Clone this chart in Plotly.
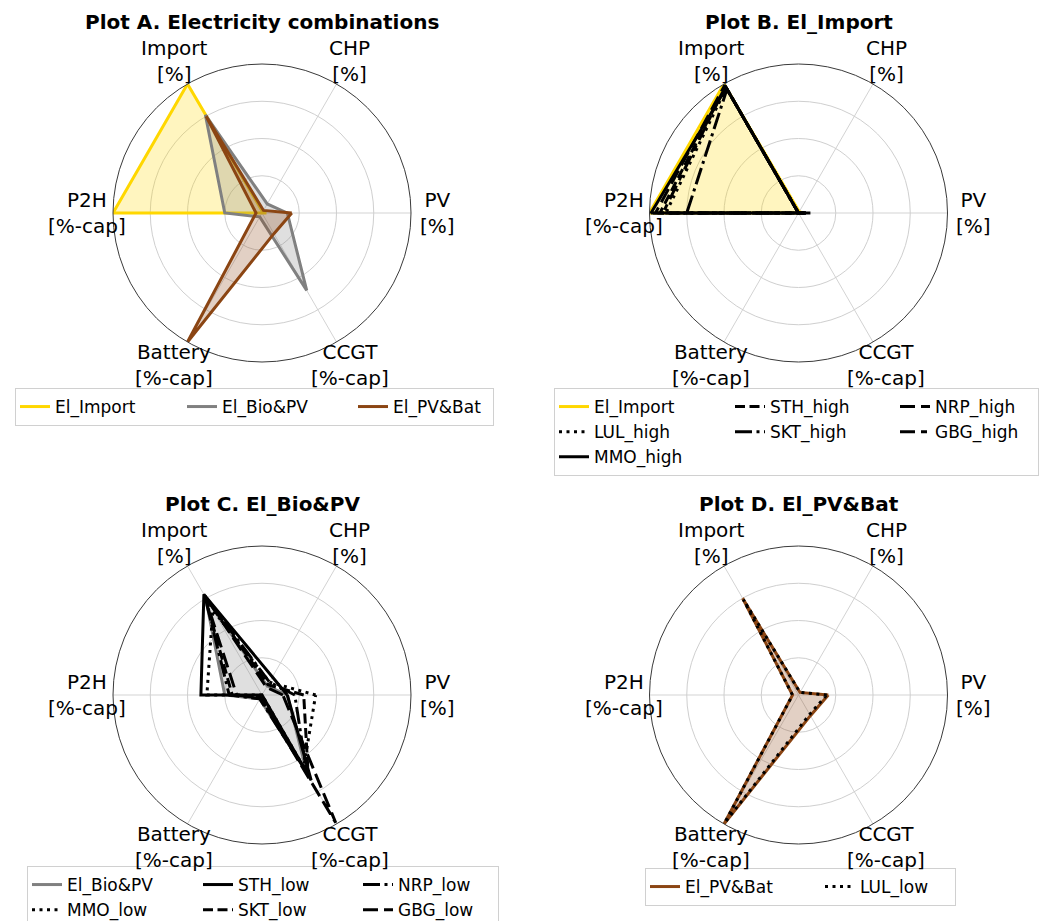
import math
import plotly.graph_objects as go

# Radar axes, listed counter-clockwise starting from the 0° (east) spoke
categories = ["PV", "CHP", "Import", "P2H", "Battery", "CCGT"]
units = ["[%]", "[%]", "[%]", "[%-cap]", "[%-cap]", "[%-cap]"]

# Normalised values, one entry per category above
el_import = [0.03, 0.01, 1.00, 1.00, 0.00, 0.00]
el_bio_pv = [0.17, 0.07, 0.76, 0.25, 0.03, 0.60]
el_pv_bat = [0.20, 0.02, 0.75, 0.04, 1.00, 0.16]

# El_Import sensitivity runs (high)
lul_high = [0.04, 0.00, 0.97, 0.89, 0.00, 0.00]
mmo_high = [0.08, 0.00, 0.97, 0.99, 0.00, 0.00]
sth_high = [0.05, 0.00, 0.98, 0.93, 0.00, 0.00]
skt_high = [0.04, 0.00, 0.96, 0.75, 0.00, 0.00]
nrp_high = [0.05, 0.00, 0.99, 0.96, 0.00, 0.00]
gbg_high = [0.05, 0.00, 0.98, 0.91, 0.00, 0.00]

# El_Bio&PV sensitivity runs (low)
mmo_low = [0.36, 0.10, 0.66, 0.37, 0.00, 0.56]
sth_low = [0.17, 0.14, 0.78, 0.41, 0.00, 0.66]
skt_low = [0.28, 0.08, 0.77, 0.20, 0.02, 0.62]
nrp_low = [0.22, 0.10, 0.77, 0.22, 0.03, 0.60]
gbg_low = [0.14, 0.06, 0.77, 0.17, 0.02, 0.99]

# El_PV&Bat sensitivity run (low)
lul_low = [0.19, 0.02, 0.74, 0.04, 0.99, 0.15]

titles = {
    "polar": "Plot A. Electricity combinations",
    "polar2": "Plot B. El_Import",
    "polar3": "Plot C. El_Bio&PV",
    "polar4": "Plot D. El_PV&Bat",
}

GOLD = "#FFD700"
GREY = "#808080"
BROWN = "#8B4513"
FILLS = {GOLD: "rgba(255,215,0,0.25)", GREY: "rgba(128,128,128,0.25)",
         BROWN: "rgba(139,69,19,0.25)"}

DOT = "3px,4.5px"
DASH = "10px,4.5px"
LONGDASH = "15px,6px"
DASHDOT = "17px,4.5px,3px,4.5px"
DASHSHORT = "15px,6px,6px,6px"

W, H = 1056, 921
R = 149            # polar radius in px
LABEL_R = 175      # distance of the axis labels from the centre
FONT = "DejaVu Sans"
centers = {
    "polar": (262, 213),
    "polar2": (798.5, 213),
    "polar3": (262, 695),
    "polar4": (798.5, 695),
}
legend_of = {"polar": "legend", "polar2": "legend2", "polar3": "legend3", "polar4": "legend4"}

fig = go.Figure()


def add(polar, name, vals, color, dash="solid", fill=False, group=None, entry=None, width=3):
    r = list(vals) + [vals[0]]
    theta = categories + [categories[0]]
    if fill:
        # shaded area drawn on its own so the legend keeps a plain line key
        fig.add_trace(go.Scatterpolar(
            r=r, theta=theta, mode="lines", subplot=polar,
            legend=legend_of[polar], legendgroup=group, showlegend=False,
            line=dict(color=color, width=0), fill="toself",
            fillcolor=FILLS[color], hoverinfo="skip",
        ))
    fig.add_trace(go.Scatterpolar(
        r=r, theta=theta, mode="lines", name=name, subplot=polar,
        legend=legend_of[polar], legendgroup=group, legendwidth=entry,
        line=dict(color=color, width=width, dash=dash),
        cliponaxis=False, hoverinfo="skip",
    ))


# Plot A
add("polar", "El_Import", el_import, GOLD, fill=True, group="a1", entry=122)
add("polar", "El_Bio&PV", el_bio_pv, GREY, fill=True, group="a2", entry=126)
add("polar", "El_PV&Bat", el_pv_bat, BROWN, fill=True, group="a3", entry=95)

# Plot B
add("polar2", "El_Import", el_import, GOLD, fill=True, group="b1", entry=131)
add("polar2", "LUL_high", lul_high, "black", DOT, group="b1", entry=131)
add("polar2", "MMO_high", mmo_high, "black", "solid", group="b1", entry=131)
add("polar2", "STH_high", sth_high, "black", DASH, group="b2", entry=120)
add("polar2", "SKT_high", skt_high, "black", DASHDOT, group="b2", entry=120)
add("polar2", "NRP_high", nrp_high, "black", LONGDASH, group="b3", entry=98)
add("polar2", "GBG_high", gbg_high, "black", DASHSHORT, group="b3", entry=98)

# Plot C
add("polar3", "El_Bio&PV", el_bio_pv, GREY, fill=True, group="c1", entry=126)
add("polar3", "MMO_low", mmo_low, "black", DOT, group="c1", entry=126)
add("polar3", "STH_low", sth_low, "black", "solid", group="c2", entry=115)
add("polar3", "SKT_low", skt_low, "black", DASH, group="c2", entry=115)
add("polar3", "NRP_low", nrp_low, "black", DASHDOT, group="c3", entry=95)
add("polar3", "GBG_low", gbg_low, "black", LONGDASH, group="c3", entry=95)

# Plot D
add("polar4", "El_PV&Bat", el_pv_bat, BROWN, fill=True, group="d1", entry=130)
add("polar4", "LUL_low", lul_low, "black", DOT, group="d2", entry=90)

layout = dict(
    width=W, height=H,
    margin=dict(l=0, r=0, t=0, b=0, pad=0, autoexpand=False),
    paper_bgcolor="white",
    font=dict(family=FONT, color="black"),
    showlegend=True,
)

annotations = []
for pid, (cx, cy) in centers.items():
    layout[pid] = dict(
        domain=dict(x=[(cx - R) / W, (cx + R) / W], y=[1 - (cy + R) / H, 1 - (cy - R) / H]),
        bgcolor="white",
        angularaxis=dict(
            categoryorder="array", categoryarray=categories,
            rotation=0, direction="counterclockwise",
            showticklabels=False, ticks="",
            showline=True, linecolor="#3a3a3a", linewidth=1,
            showgrid=True, gridcolor="#d3d3d3", gridwidth=1,
        ),
        radialaxis=dict(
            range=[0, 1], tickvals=[0.25, 0.5, 0.75],
            showticklabels=False, ticks="", showline=False,
            showgrid=True, gridcolor="#cfcfcf", gridwidth=1,
        ),
    )
    # axis labels around the circle
    for i, (cat, unit) in enumerate(zip(categories, units)):
        a = math.radians(360 * i / len(categories))
        lx = cx + LABEL_R * math.cos(a)
        ly = cy - LABEL_R * math.sin(a)
        annotations.append(dict(
            x=lx / W, y=1 - ly / H, xref="paper", yref="paper",
            text=f"{cat}<br>{unit}", showarrow=False,
            xanchor="center", yanchor="middle",
            font=dict(size=20, family=FONT, color="black"),
        ))
    annotations.append(dict(
        x=cx / W, y=1 - (cy - 191) / H, xref="paper", yref="paper",
        text=titles[pid], showarrow=False, xanchor="center", yanchor="middle",
        font=dict(size=20, family=FONT, color="black", weight="bold"),
    ))

legend_style = dict(
    orientation="h", xanchor="left", yanchor="top",
    bgcolor="white", bordercolor="#d0d0d0", borderwidth=1,
    font=dict(size=17, family=FONT, color="black"),
    traceorder="grouped", tracegroupgap=0,
)
layout["legend"] = dict(legend_style, x=15 / W, y=1 - 388 / H)
layout["legend2"] = dict(legend_style, x=554 / W, y=1 - 388 / H)
layout["legend3"] = dict(legend_style, x=27 / W, y=1 - 866 / H)
layout["legend4"] = dict(legend_style, x=645 / W, y=1 - 868 / H)
layout["annotations"] = annotations

fig.update_layout(**layout)
fig.write_html("out.html")
